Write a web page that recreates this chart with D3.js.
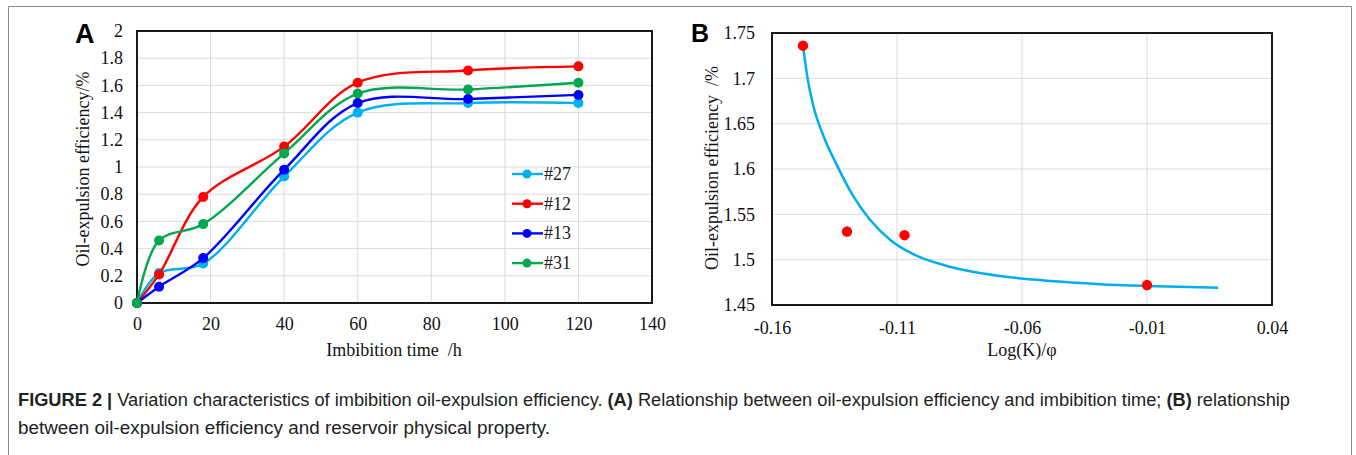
<!DOCTYPE html>
<html>
<head>
<meta charset="utf-8">
<script src="https://cdn.jsdelivr.net/npm/d3@7"></script>
<style>
  html, body { margin: 0; padding: 0; background: #fff; }
  svg { display: block; }
  .tick text { font-family: "Liberation Serif", "Times New Roman", serif; font-size: 18px; fill: #111; }
</style>
</head>
<body>
<svg id="chart" width="1356" height="455"></svg>
<script>
// ---------- Data: panel A ----------
const timeA = [0, 6, 18, 40, 60, 90, 120];
const s27 = [0, 0.22, 0.29, 0.93, 1.40, 1.47, 1.47];
const s12 = [0, 0.21, 0.78, 1.15, 1.62, 1.71, 1.74];
const s13 = [0, 0.12, 0.33, 0.98, 1.47, 1.50, 1.53];
const s31 = [0, 0.46, 0.58, 1.10, 1.54, 1.57, 1.62];
const seriesNames = ["#27", "#12", "#13", "#31"];
const seriesColors = ["#00B0F0", "#FF0000", "#0000FF", "#00A84F"];
const xTicksA = [0, 20, 40, 60, 80, 100, 120, 140];
const yTicksA = [0, 0.2, 0.4, 0.6, 0.8, 1, 1.2, 1.4, 1.6, 1.8, 2];

// ---------- Data: panel B ----------
const ptsBx = [-0.1476, -0.130, -0.107, -0.010];
const ptsBy = [1.736, 1.531, 1.527, 1.472];
const fitBx = [-0.1476, -0.146, -0.1435, -0.1395, -0.134, -0.1275, -0.1208, -0.1128, -0.1035, -0.090, -0.0688, -0.0556, -0.0288, -0.010, 0.0184];
const fitBy = [1.736, 1.704, 1.670, 1.637, 1.604, 1.570, 1.544, 1.522, 1.506, 1.493, 1.482, 1.478, 1.473, 1.471, 1.469];
const xTicksB = [-0.16, -0.11, -0.06, -0.01, 0.04];
const yTicksB = [1.45, 1.5, 1.55, 1.6, 1.65, 1.7, 1.75];

const svg = d3.select("#chart");
const serif = '"Liberation Serif", "Times New Roman", serif';
const sans = '"Liberation Sans", Arial, sans-serif';

// outer frame
svg.append("path")
  .attr("d", "M8.5,455 L8.5,6.5 L1351.5,6.5 L1351.5,455")
  .attr("fill", "none").attr("stroke", "#8a8a8a").attr("stroke-width", 1);

// ---------- Panel A ----------
{
  const L = 137, T = 31, R = 652, B = 303;
  const x = d3.scaleLinear().domain([0, 140]).range([L, R]);
  const y = d3.scaleLinear().domain([0, 2]).range([B, T]);
  const g = svg.append("g");

  g.append("g").selectAll("line.v").data(xTicksA.slice(1, -1)).join("line")
    .attr("x1", d => x(d)).attr("x2", d => x(d)).attr("y1", T).attr("y2", B)
    .attr("stroke", "#dcdcdc").attr("stroke-width", 1);
  g.append("g").selectAll("line.h").data(yTicksA.slice(1, -1)).join("line")
    .attr("x1", L).attr("x2", R).attr("y1", d => y(d)).attr("y2", d => y(d))
    .attr("stroke", "#dcdcdc").attr("stroke-width", 1);

  g.append("rect").attr("x", L).attr("y", T).attr("width", R - L).attr("height", B - T)
    .attr("fill", "none").attr("stroke", "#1a1a1a").attr("stroke-width", 2);

  const ax = g.append("g").attr("transform", `translate(0,${B})`)
    .call(d3.axisBottom(x).tickValues(xTicksA).tickSize(0).tickPadding(14).tickFormat(d3.format("d")));
  ax.select(".domain").remove();
  const ay = g.append("g").attr("transform", `translate(${L},0)`)
    .call(d3.axisLeft(y).tickValues(yTicksA).tickSize(0).tickPadding(14).tickFormat(d => String(+d.toFixed(1))));
  ay.select(".domain").remove();

  const all = [s27, s12, s13, s31];
  const line = d3.line().x((d, i) => x(timeA[i])).y(d => y(d)).curve(d3.curveCatmullRom.alpha(0.5));
  all.forEach((s, k) => {
    g.append("path").datum(s).attr("d", line).attr("fill", "none")
      .attr("stroke", seriesColors[k]).attr("stroke-width", 2.4);
    g.append("g").selectAll("circle").data(s).join("circle")
      .attr("cx", (d, i) => x(timeA[i])).attr("cy", d => y(d)).attr("r", 5)
      .attr("fill", seriesColors[k]);
  });

  // legend
  const lg = g.append("g");
  seriesNames.forEach((n, k) => {
    const yy = 174 + k * 29.7;
    lg.append("line").attr("x1", 512).attr("x2", 543).attr("y1", yy).attr("y2", yy)
      .attr("stroke", seriesColors[k]).attr("stroke-width", 2.4);
    lg.append("circle").attr("cx", 527).attr("cy", yy).attr("r", 4.5).attr("fill", seriesColors[k]);
    lg.append("text").attr("x", 544).attr("y", yy + 6).text(n)
      .attr("font-family", serif).attr("font-size", 18).attr("fill", "#222");
  });

  g.append("text").attr("x", 394).attr("y", 356).attr("text-anchor", "middle")
    .attr("font-family", serif).attr("font-size", 18).attr("fill", "#111")
    .attr("xml:space", "preserve").text("Imbibition time  /h");
  g.append("text").attr("transform", "translate(89,169) rotate(-90)").attr("text-anchor", "middle")
    .attr("font-family", serif).attr("font-size", 18).attr("fill", "#111")
    .text("Oil-expulsion efficiency/%");
  g.append("text").attr("x", 75).attr("y", 43).attr("font-family", sans).attr("font-weight", "bold")
    .attr("font-size", 27).attr("fill", "#000").text("A");
}

// ---------- Panel B ----------
{
  const L = 772, T = 33, R = 1272, B = 305;
  const x = d3.scaleLinear().domain([-0.16, 0.04]).range([L, R]);
  const y = d3.scaleLinear().domain([1.45, 1.75]).range([B, T]);
  const g = svg.append("g");

  g.append("g").selectAll("line").data(xTicksB.slice(1, -1)).join("line")
    .attr("x1", d => x(d)).attr("x2", d => x(d)).attr("y1", T).attr("y2", B)
    .attr("stroke", "#dcdcdc").attr("stroke-width", 1);
  g.append("g").selectAll("line").data(yTicksB.slice(1, -1)).join("line")
    .attr("x1", L).attr("x2", R).attr("y1", d => y(d)).attr("y2", d => y(d))
    .attr("stroke", "#dcdcdc").attr("stroke-width", 1);

  g.append("rect").attr("x", L).attr("y", T).attr("width", R - L).attr("height", B - T)
    .attr("fill", "none").attr("stroke", "#1a1a1a").attr("stroke-width", 2);

  const ax = g.append("g").attr("transform", `translate(0,${B})`)
    .call(d3.axisBottom(x).tickValues(xTicksB).tickSize(0).tickPadding(16).tickFormat(d => String(+d.toFixed(2))));
  ax.select(".domain").remove();
  const ay = g.append("g").attr("transform", `translate(${L},0)`)
    .call(d3.axisLeft(y).tickValues(yTicksB).tickSize(0).tickPadding(17).tickFormat(d => String(+d.toFixed(2))));
  ay.select(".domain").remove();

  const line = d3.line().x((d, i) => x(fitBx[i])).y(d => y(d)).curve(d3.curveMonotoneX);
  g.append("path").datum(fitBy).attr("d", line).attr("fill", "none")
    .attr("stroke", "#00AEEF").attr("stroke-width", 2.5);
  g.append("g").selectAll("circle").data(ptsBy).join("circle")
    .attr("cx", (d, i) => x(ptsBx[i])).attr("cy", d => y(d)).attr("r", 5.2).attr("fill", "#FF0000");

  g.append("text").attr("x", 1022).attr("y", 356).attr("text-anchor", "middle")
    .attr("font-family", serif).attr("font-size", 18).attr("fill", "#111").text("Log(K)/φ");
  g.append("text").attr("transform", "translate(718,168) rotate(-90)").attr("text-anchor", "middle")
    .attr("font-family", serif).attr("font-size", 18).attr("fill", "#111")
    .attr("xml:space", "preserve").text("Oil-expulsion efficiency  /%");
  g.append("text").attr("x", 691).attr("y", 42).attr("font-family", sans).attr("font-weight", "bold")
    .attr("font-size", 25).attr("fill", "#000").text("B");
}

// ---------- Caption ----------
{
  const c = svg.append("g").attr("font-family", sans).attr("font-size", 17.5).attr("fill", "#222");
  const t1 = c.append("text").attr("x", 18).attr("y", 406).attr("xml:space", "preserve")
    .attr("textLength", 1272).attr("lengthAdjust", "spacingAndGlyphs");
  t1.append("tspan").attr("font-weight", "bold").text("FIGURE 2 | ");
  t1.append("tspan").text("Variation characteristics of imbibition oil-expulsion efficiency. ");
  t1.append("tspan").attr("font-weight", "bold").text("(A)");
  t1.append("tspan").text(" Relationship between oil-expulsion efficiency and imbibition time; ");
  t1.append("tspan").attr("font-weight", "bold").text("(B)");
  t1.append("tspan").text(" relationship");
  c.append("text").attr("x", 18).attr("y", 434)
    .attr("textLength", 532).attr("lengthAdjust", "spacingAndGlyphs")
    .text("between oil-expulsion efficiency and reservoir physical property.");
}
</script>
</body>
</html>
